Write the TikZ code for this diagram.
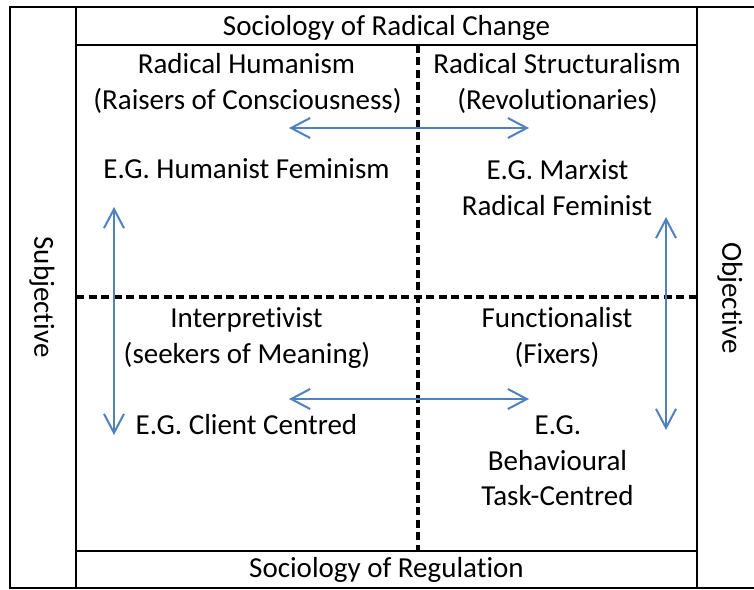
\documentclass[tikz,border=0pt]{standalone}
\usepackage{fontspec}
\setmainfont[Ligatures=NoCommon]{Carlito}
\usetikzlibrary{arrows.meta}
\definecolor{arrowblue}{HTML}{4F81BD}
\begin{document}
\begin{tikzpicture}[x=1pt,y=-1pt,
  frame/.style={line width=2pt,black},
  divider/.style={line width=3.2pt,black,dash pattern=on 8pt off 4.5pt},
  lbl/.style={font=\fontsize{29}{36}\selectfont,inner sep=0pt,anchor=base},
  rel/.style={line width=2pt,arrowblue,{Straight Barb[length=19pt,width=20pt,line width=2pt]}-{Straight Barb[length=19pt,width=20pt,line width=2pt]}}]
\useasboundingbox (0,0) rectangle (754,589);
% frames
\draw[frame] (10,7) rectangle (760,588);
\draw[frame] (76,7) -- (76,588);
\draw[frame] (697,7) -- (697,588);
\draw[frame] (76,44.5) -- (697,44.5);
\draw[frame] (76,551) -- (697,551);
% dividers
\draw[divider] (76,297) -- (697,297);
\draw[divider] (418,44.5) -- (418,551);
% headings
\node[lbl] (change) at (386.5,35.5) {Sociology of Radical Change};
\node[lbl] (regulation) at (386.5,577.5) {Sociology of Regulation};
\node[font=\fontsize{29}{36}\selectfont,inner sep=0pt,rotate=-90] (subj) at (42,297) {Subjective};
\node[font=\fontsize{29}{36}\selectfont,inner sep=0pt,rotate=-90] (obj) at (730,298) {Objective};
% top-left
\node[lbl] (rh1) at (246.5,73.5) {Radical Humanism};
\node[lbl] (rh2) at (247.5,109.5) {(Raisers of Consciousness)};
\node[lbl] (rh3) at (246.5,178.5) {E.G. Humanist Feminism};
% top-right
\node[lbl] (rs1) at (557,73.5) {Radical Structuralism};
\node[lbl] (rs2) at (557.5,109.5) {(Revolutionaries)};
\node[lbl] (rs3) at (557.5,179.5) {E.G. Marxist};
\node[lbl] (rs4) at (557,215.5) {Radical Feminist};
% bottom-left
\node[lbl] (in1) at (246.5,327.5) {Interpretivist};
\node[lbl] (in2) at (247,363.5) {(seekers of Meaning)};
\node[lbl] (in3) at (246.5,434.5) {E.G. Client Centred};
% bottom-right
\node[lbl] (fn1) at (557,327.5) {Functionalist};
\node[lbl] (fn2) at (557,363.5) {(Fixers)};
\node[lbl] (fn3) at (558,434.5) {E.G.};
\node[lbl] (fn4) at (557.5,470.5) {Behavioural};
\node[lbl] (fn5) at (557.5,505.5) {Task-Centred};
% arrow end points
\coordinate (ta) at (289,128);
\coordinate (tb) at (529,128);
\coordinate (ba) at (289,399);
\coordinate (bb) at (529,399);
\coordinate (la) at (114,207);
\coordinate (lb) at (114,435);
\coordinate (ra) at (666,217);
\coordinate (rb) at (666,430);
\draw[rel] (ta) -- (tb);
\draw[rel] (ba) -- (bb);
\draw[rel] (la) -- (lb);
\draw[rel] (ra) -- (rb);
\end{tikzpicture}
\end{document}
